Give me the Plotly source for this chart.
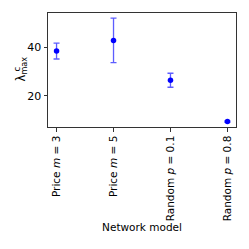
import plotly.graph_objects as go

categories = ["Price <i>m</i> = 3", "Price <i>m</i> = 5", "Random <i>p</i> = 0.1", "Random <i>p</i> = 0.8"]
values = [38.5, 42.9, 26.4, 9.3]
errors = [3.3, 9.2, 2.9, 0.3]
y_ticks = [20, 40]

xs = list(range(len(categories)))
FONT = "DejaVu Sans"

fig = go.Figure()
fig.add_trace(go.Scatter(
    x=xs, y=values, mode="markers",
    marker=dict(color="#0000ff", size=5.5),
    error_y=dict(type="data", array=errors, visible=True,
                 color="rgba(30,30,255,0.72)", thickness=1.3, width=3),
    showlegend=False,
))

fig.update_layout(
    width=249, height=249,
    margin=dict(l=48, r=13, t=13, b=122),
    paper_bgcolor="white", plot_bgcolor="white",
    font=dict(family=FONT, size=10.5, color="black"),
    xaxis=dict(
        range=[-0.15, 3.15], tickvals=xs, ticktext=categories, tickangle=-90,
        showline=True, linecolor="#333", linewidth=1, mirror=True, automargin=False,
        ticks="outside", ticklen=3.5, tickcolor="#333", showgrid=False, zeroline=False,
        title=dict(text="Network model", font=dict(size=10.5), standoff=0),
    ),
    yaxis=dict(
        range=[7.05, 54.25], tickvals=y_ticks, tickfont=dict(size=11), automargin=False,
        showline=True, linecolor="#333", linewidth=1, mirror=True,
        ticks="outside", ticklen=3.5, tickcolor="#333", showgrid=False, zeroline=False,
    ),
    annotations=[
        dict(text="λ<sub>max</sub>", textangle=-90, xref="paper", yref="paper",
             x=0, y=0.505, xanchor="center", yanchor="middle", xshift=-27,
             showarrow=False, font=dict(size=11.5)),
        dict(text="c", xref="paper", yref="paper", textangle=-90,
             x=0, y=0.505, xanchor="center", yanchor="middle", xshift=-31,
             showarrow=False, font=dict(size=8.5)),
    ],
)

fig.write_html("out.html", config={"displayModeBar": False},
               post_script="document.body.style.margin='0';")
